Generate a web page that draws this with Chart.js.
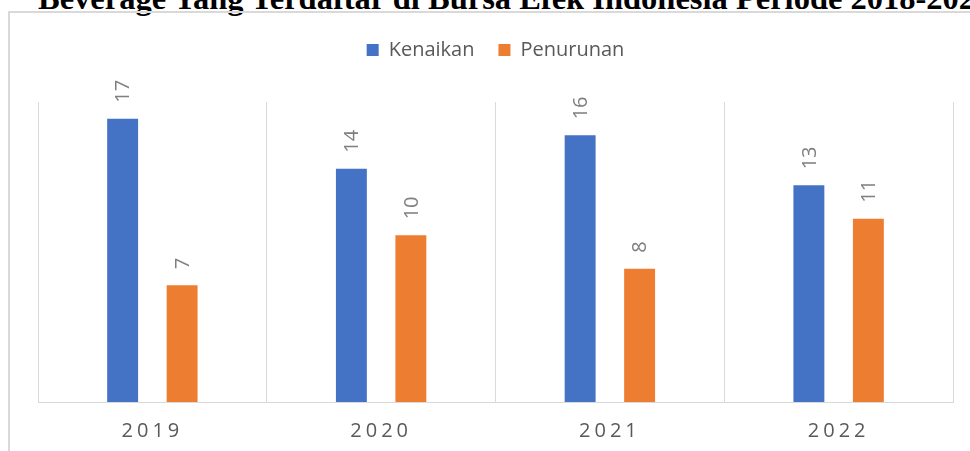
<!DOCTYPE html>
<html>
<head>
<meta charset="utf-8">
<script src="https://cdn.jsdelivr.net/npm/chart.js@4"></script>
<style>
  html, body { margin: 0; padding: 0; background: #fff; }
  body { width: 970px; height: 451px; position: relative; overflow: hidden; }
  #heading {
    position: absolute; left: 38px; top: -18px;
    font: bold 32.5px "Liberation Serif", "Times New Roman", serif;
    line-height: 1; white-space: nowrap; color: #000;
  }
  #frame {
    position: absolute; left: 8px; top: 11px; width: 1000px; height: 500px;
    border-top: 2px solid #d9d9d9; border-left: 2px solid #d9d9d9;
  }
  #chart { position: absolute; left: 0; top: 0; }
</style>
</head>
<body>
<div id="heading">Beverage Yang Terdaftar di Bursa Efek Indonesia Periode 2018-2022</div>
<div id="frame"></div>
<canvas id="chart" width="970" height="451"></canvas>
<script>
// Jumlah perusahaan per tahun
const years = ['2019', '2020', '2021', '2022'];
const kenaikan = [17, 14, 16, 13];
const penurunan = [7, 10, 8, 11];

const textGray = '#595959';
const lineGray = '#d9d9d9';

// value labels above bars, rotated like in the original
const barLabels = {
    id: 'barLabels',
    afterDatasetsDraw(chart) {
        const ctx = chart.ctx;
        chart.data.datasets.forEach((ds, i) => {
            chart.getDatasetMeta(i).data.forEach((bar, j) => {
                ctx.save();
                ctx.translate(bar.x + 1, bar.y - 16);
                ctx.rotate(-Math.PI / 2);
                ctx.font = '20px "Open Sans"';
                ctx.fillStyle = '#7f7f7f';
                ctx.textAlign = 'left';
                ctx.textBaseline = 'middle';
                ctx.fillText(String(ds.data[j]), 0, 0);
                ctx.restore();
            });
        });
    }
};

// spaced-out year labels on the x axis
const spacedTicks = {
    id: 'spacedTicks',
    beforeDraw(chart) {
        const xs = chart.scales.x;
        if (xs._spaced) return;
        const orig = xs.drawLabels;
        xs.drawLabels = function (area) {
            const c = this.ctx;
            c.save();
            c.letterSpacing = '4px';
            orig.call(this, area);
            c.restore();
        };
        xs._spaced = true;
    }
};

const ctx = document.getElementById('chart').getContext('2d');
const chart = new Chart(ctx, {
    type: 'bar',
    data: {
        labels: years,
        datasets: [{
            label: 'Kenaikan',
            data: kenaikan,
            backgroundColor: '#4472C4'
        }, {
            label: 'Penurunan',
            data: penurunan,
            backgroundColor: '#ED7D31'
        }]
    },
    options: {
        responsive: false,
        animation: false,
        categoryPercentage: 0.52,
        barPercentage: 0.52,
        layout: { padding: { top: 16, left: 38, right: 17, bottom: 0 } },
        plugins: {
            legend: {
                position: 'top',
                labels: {
                    boxWidth: 12,
                    boxHeight: 12,
                    padding: 24,
                    color: textGray,
                    font: { family: 'Open Sans', size: 20 }
                }
            },
            // empty spacer between legend and plot
            title: {
                display: true,
                text: '',
                weight: 500,
                padding: 0,
                font: { size: 32, lineHeight: 1 }
            },
            tooltip: { enabled: false }
        },
        scales: {
            x: {
                grid: { color: lineGray, drawTicks: false, offset: true },
                border: { color: lineGray, width: 1 },
                ticks: {
                    color: textGray,
                    padding: 17,
                    font: { family: 'Open Sans', size: 20 }
                },
                afterFit(scale) { scale.height = 49; }
            },
            y: {
                display: false,
                min: 0,
                max: 18
            }
        }
    },
    plugins: [barLabels, spacedTicks]
});
chart.draw();
</script>
</body>
</html>
